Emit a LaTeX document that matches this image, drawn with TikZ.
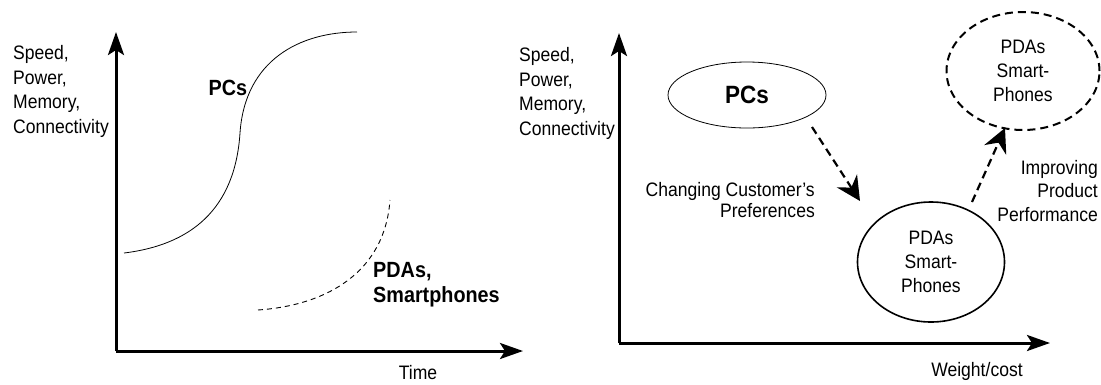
\documentclass[tikz,border=0pt]{standalone}
\usepackage{fontspec}
\setmainfont{Liberation Sans}[FakeStretch=0.9]
\usetikzlibrary{arrows.meta,shapes.geometric}

\begin{document}
\begin{tikzpicture}[x=1pt,y=-1pt,
  axis/.style={line width=3pt,-{Stealth[length=23pt,width=16pt,inset=5pt]}},
  trend/.style={line width=0.8pt},
  trenddash/.style={line width=0.9pt,dash pattern=on 5pt off 4pt},
  moveto/.style={line width=2.2pt,dash pattern=on 8pt off 5pt,
    -{Stealth[length=24pt,width=24pt,inset=8pt]}},
  txt/.style={font=\fontsize{19.5}{24.7}\selectfont,inner sep=0pt},
  bold/.style={font=\fontsize{22}{25}\selectfont\bfseries,inner sep=0pt},
  market/.style={ellipse,inner sep=0pt,font=\fontsize{19.5}{24}\selectfont,align=center}
]
\useasboundingbox (0,0) rectangle (1101,384);

% ---------- performance over time ----------
\coordinate (o1) at (116,351);
\coordinate (y1) at (116,32);
\coordinate (x1) at (523,351);
\draw[axis] (o1) -- (y1);
\draw[axis] (o1) -- (x1);

\node[txt,align=left,anchor=north west] (yl1) at (13,45)
  {Speed,\\Power,\\Memory,\\Connectivity};
\node[txt,anchor=north] (tl) at (418,365) {Time};

% PC technology S-curve
\coordinate (pcA) at (124,253);
\coordinate (pcB) at (240,133);
\coordinate (pcC) at (357,32);
\draw[trend] (pcA) .. controls (190,245) and (235,210) .. (pcB)
                   .. controls (245,60) and (300,32) .. (pcC);
\node[bold,anchor=north] (pcl) at (228,80) {PCs};

% PDA / smartphone S-curve (early part)
\coordinate (pdA) at (258,310);
\coordinate (pdB) at (390,200);
\draw[trenddash] (pdA) .. controls (330,305) and (385,270) .. (pdB);
\node[bold,align=left,anchor=north west] (pdl) at (373,262) {PDAs,\\Smartphones};

% ---------- performance versus weight/cost ----------
\coordinate (o2) at (619,343);
\coordinate (y2) at (619,33);
\coordinate (x2) at (1050,343);
\draw[axis] (o2) -- (y2);
\draw[axis] (o2) -- (x2);

\node[txt,align=left,anchor=north west] (yl2) at (519,47)
  {Speed,\\Power,\\Memory,\\Connectivity};
\node[txt,anchor=north] (wl) at (977,362) {Weight/cost};

\node[ellipse,draw,line width=0.8pt,minimum width=158pt,minimum height=66pt,
      font=\fontsize{25}{25}\selectfont\bfseries] (pcs) at (747,95) {PCs};
\node[market,draw,line width=1.6pt,minimum width=147pt,minimum height=120pt]
  (pda) at (931,262) {PDAs\\Smart-\\Phones};
\node[market,draw,line width=2pt,dash pattern=on 8pt off 5pt,
      minimum width=153pt,minimum height=118pt]
  (pdaf) at (1023,71) {PDAs\\Smart-\\Phones};

\coordinate (s1) at (812,127);
\coordinate (e1) at (860,201);
\draw[moveto] (s1) -- (e1);
\coordinate (s2) at (972,202);
\coordinate (e2) at (1005,128);
\draw[moveto] (s2) -- (e2);

\node[txt,font=\fontsize{19.5}{21}\selectfont,align=right,anchor=north east] (chg) at (815,182)
  {Changing Customer's\\Preferences};
\node[txt,font=\fontsize{19.5}{23.5}\selectfont,align=right,anchor=north east] (imp) at (1098,160)
  {Improving\\Product\\Performance};
\end{tikzpicture}
\end{document}
